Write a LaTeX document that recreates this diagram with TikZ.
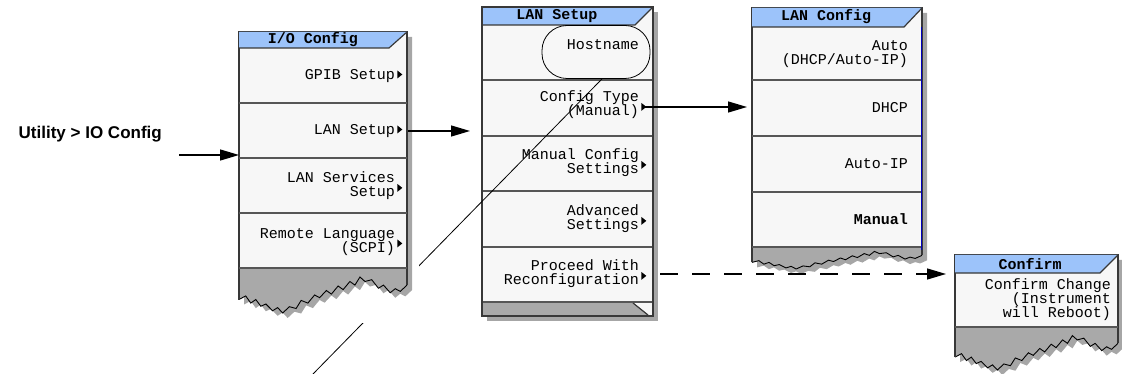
\documentclass[tikz,border=0pt]{standalone}
\usepackage{fontspec}
\setmainfont{Liberation Sans}
\newfontfamily\keyfont{Liberation Mono}
\usetikzlibrary{arrows.meta,shadows}

\definecolor{titleblue}{HTML}{9CC3FA}
\definecolor{keyfill}{HTML}{F7F7F7}
\definecolor{tornfill}{HTML}{A9A9A9}
\definecolor{frameline}{HTML}{383838}

% little arrow after a softkey label (one-line / two-line keys)
\newcommand\more{\rlap{\hspace{2.5pt}\smash{\tikz[x=1pt,y=1pt,baseline=0pt]\fill (0,1) -- (0,9) -- (5,5) -- cycle;}}}
\newcommand\morehi{\rlap{\hspace{2.5pt}\smash{\tikz[x=1pt,y=1pt,baseline=0pt]\fill (0,5) -- (0,13) -- (5,9) -- cycle;}}}

\tikzset{
  softkey/.style={anchor=east, align=right, inner sep=0pt,
    font=\keyfont\fontsize{15}{14}\selectfont},
  menutitle/.style={inner sep=0pt, font=\keyfont\bfseries\fontsize{15}{15}\selectfont},
  flow/.style={-{Triangle[length=19pt,width=11pt]}, line width=1.4pt},
  keysep/.style={draw=frameline!85, line width=2.2pt},
  menushadow/.style={drop shadow={shadow xshift=5pt, shadow yshift=-5pt, opacity=.35, fill=black}},
}

\begin{document}
\begin{tikzpicture}[x=1pt, y=-1pt]
        \useasboundingbox (0,0) rectangle (1122,374);
        \def\tornprofile{0/.7, .04/.62, .07/.78, .1/.7, .13/.85, .16/.8, .2/.95, .23/.88,
          .26/1, .3/.86, .34/.9, .37/.72, .41/.78, .45/.6, .48/.66, .52/.5, .55/.58,
          .59/.4, .62/.48, .66/.3, .69/.38, .72/.2, .75/.3, .79/.26, .83/.45, .86/.38,
          .9/.55, .93/.46, .96/.52, 1/.38}
        % menu with torn-off bottom: x1,x2,ytop,ygray,depth
        \def\tornmenu(#1,#2,#3,#4,#5){%
          \fill[keyfill, menushadow] (#2,#3) -- (#1,#3)
            \foreach \tx/\dy in \tornprofile {-- ({#1+\tx*(#2-#1)},{#4+\dy*#5})} -- cycle;
          \fill[tornfill] (#1,#4)
            \foreach \tx/\dy in \tornprofile {-- ({#1+\tx*(#2-#1)},{#4+\dy*#5})} -- (#2,#4) -- cycle;
          \draw[line width=.9pt] (#1,{#4+.7*#5})
            \foreach \tx/\dy in \tornprofile {-- ({#1+\tx*(#2-#1)},{#4+\dy*#5})};
          \draw[frameline, line width=2.5pt] (#1,{#4+.7*#5}) -- (#1,#3) -- (#2,#3) -- (#2,{#4+.38*#5});}
        % title bar: x1,x2,ytop,ybottom
        \def\menutop(#1,#2,#3,#4){%
          \fill[titleblue] (#1,#3) -- (#2,#3) -- (#2-18,#4) -- (#1,#4) -- cycle;
          \draw[frameline, line width=1.2pt] (#2,#3) -- (#2-18,#4) -- (#1,#4);}

        \coordinate (iocfg) at (239,32);
        \coordinate (lansetup) at (482,7);
        \coordinate (lanconfig) at (752,8);
        \coordinate (confirm) at (955,255);

        % LAN Setup
        \fill[keyfill, menushadow] (482,7) rectangle (653,316);
        \menutop(482,653,7,25)
        \foreach \y in {80,136,191,247,302} \draw[keysep] (482,\y) -- (653,\y);
        \fill[tornfill] (483,303) -- (633,303) -- (648,315) -- (483,315) -- cycle;
        \draw[frameline, line width=1.2pt] (633,303) -- (648,315);
        \draw[frameline, line width=2.5pt] (482,7) rectangle (653,316);
        \node[menutitle] (lantitle) at (557,16) {LAN Setup};
        \node[draw, line width=.8pt, rounded corners=25pt, minimum width=108pt,
          minimum height=53pt, inner sep=0pt] (hostname) at (596,52) {};
        \node[softkey] (hostlabel) at (639,45) {Hostname};
        \node[softkey] (cfgtype) at (639,105) {Config Type\\(Manual)\morehi};
        \node[softkey] (manualcfg) at (639,163) {Manual Config\\Settings\morehi};
        \node[softkey] (advanced) at (639,219) {Advanced\\Settings\morehi};
        \node[softkey] (reconf) at (639,274) {Proceed With\\Reconfiguration\morehi};

        % LAN Config
        \tornmenu(752,922,8,247,22)
        \menutop(752,922,8,27)
        \foreach \y in {80,136,192,247} \draw[keysep] (752,\y) -- (922,\y);
        \draw[blue!75!black, line width=1pt] (921,27) -- (921,250);
        \node[menutitle] (cfgtitle) at (826,17) {LAN Config};
        \node[softkey] (auto) at (908,54) {Auto\\(DHCP/Auto-IP)};
        \node[softkey] (dhcp) at (908,108) {DHCP};
        \node[softkey] (autoip) at (908,164) {Auto-IP};
        \node[softkey] (manual) at (908,219) {\bfseries Manual};

        % Confirm
        \tornmenu(955,1118,255,327,43)
        \menutop(955,1118,255,273)
        \draw[keysep] (955,327) -- (1118,327);
        \node[menutitle] (conftitle) at (1030,264) {Confirm};
        \node[softkey] (confirmkey) at (1111,300) {Confirm Change\\(Instrument\\will Reboot)};

        % leader from Hostname
        \coordinate (leaderend) at (313,374);
        \draw[line width=.8pt] ([xshift=6pt]hostname.south) -- (leaderend);

        % I/O Config
        \fill[white] (226,22) rectangle (419,323);
        \tornmenu(239,407,32,268,45)
        \menutop(239,407,32,48)
        \foreach \y in {103,158,213,268} \draw[keysep] (239,\y) -- (407,\y);
        \node[menutitle] (iotitle) at (313,40) {I/O Config};
        \node[softkey] (gpib) at (395,76) {GPIB Setup\more};
        \node[softkey] (lan) at (395,131) {LAN Setup\more};
        \node[softkey] (lansvc) at (395,186) {LAN Services\\Setup\morehi};
        \node[softkey] (remote) at (395,242) {Remote Language\\(SCPI)\morehi};

        % flow
        \node[anchor=base east, inner sep=0pt, font=\bfseries\fontsize{17}{17}\selectfont]
          (utility) at (162,139) {Utility > IO Config};
        \coordinate (utiltail) at (179,155);
        \draw[flow] (utiltail) -- (utiltail -| iocfg);
        \draw[flow, shorten >=12pt] ([xshift=13pt]lan.east) -- (lan.east -| lansetup);
        \draw[flow, shorten >=5pt] ([xshift=6pt,yshift=-2pt]cfgtype.east) -- ([yshift=-2pt]cfgtype.east -| lanconfig);
        \draw[flow, dash pattern=on 18pt off 14pt, shorten >=9pt] ([xshift=21pt]reconf.east) -- (reconf.east -| confirm);
    \end{tikzpicture}
\end{document}
